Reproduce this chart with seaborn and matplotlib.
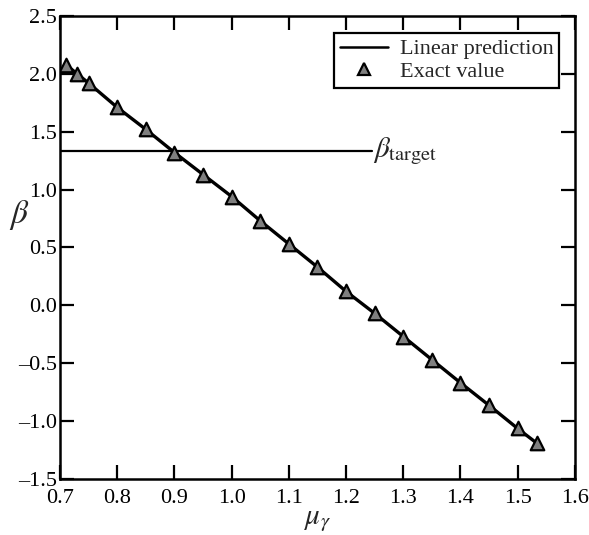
import numpy as np
import pandas as pd
import matplotlib
matplotlib.use("Agg")
import matplotlib.pyplot as plt
import seaborn as sns
from matplotlib.lines import Line2D

sns.set_theme(style="ticks")
plt.rcParams['font.family'] = ['Liberation Serif', 'DejaVu Serif']
plt.rcParams['mathtext.fontset'] = 'stix'
plt.rcParams['axes.unicode_minus'] = True

mu_gamma = [0.71, 0.73, 0.75, 0.80, 0.85, 0.90, 0.95, 1.00, 1.05, 1.10, 1.15,
            1.20, 1.25, 1.30, 1.35, 1.40, 1.45, 1.50, 1.533]
beta_exact = [2.08, 2.00, 1.92, 1.71, 1.52, 1.32, 1.13, 0.94, 0.73, 0.53, 0.33,
              0.12, -0.07, -0.27, -0.47, -0.67, -0.865, -1.065, -1.19]
beta_linear = beta_exact
beta_target = 1.33
target_x_end = 1.245

df = pd.DataFrame({"mu": mu_gamma, "lin": beta_linear, "exact": beta_exact})

fig = plt.figure(figsize=(5.89, 5.35), dpi=100)
ax = fig.add_axes([0.102, 0.105, 0.874, 0.865])

sns.lineplot(data=df, x="mu", y="lin", ax=ax, color="black", lw=2.4, zorder=2)
sns.scatterplot(data=df, x="mu", y="exact", ax=ax, marker="^", s=95,
                color="#7f7f7f", edgecolor="black", linewidth=1.6, zorder=3)
ax.plot([0.7, target_x_end], [beta_target, beta_target], color="black", lw=1.6, zorder=1)
ax.text(target_x_end + 0.002, beta_target, r"$\beta_{\mathrm{target}}$", fontsize=21,
        va="center", ha="left")

ax.set_xlim(0.7, 1.6)
ax.set_ylim(-1.5, 2.5)
ax.set_xticks(np.arange(0.7, 1.61, 0.1))
ax.set_yticks(np.arange(-1.5, 2.51, 0.5))
ax.set_xticklabels([f"{v:.1f}" for v in np.arange(0.7, 1.61, 0.1)])
ax.set_yticklabels([f"{v:.1f}".replace("-", "\u2013") for v in np.arange(-1.5, 2.51, 0.5)])
ax.tick_params(direction="in", length=10, width=1.6, labelsize=16, top=True, right=True,
               colors="black")
ax.tick_params(axis="x", pad=7)
ax.tick_params(axis="y", pad=2)
for sp in ax.spines.values():
    sp.set_visible(True)
    sp.set_linewidth(1.8)
    sp.set_color("black")

ax.set_xlabel(r"$\mu_{\gamma}$", fontsize=21, labelpad=0)
ax.set_ylabel(r"$\beta$", fontsize=24, rotation=0, va="center", ha="center")
ax.yaxis.set_label_coords(-0.08, 0.57)

handles = [Line2D([0], [0], color="black", lw=1.8),
           Line2D([0], [0], marker="^", color="none", markerfacecolor="#7f7f7f",
                  markeredgecolor="black", markersize=9, markeredgewidth=1.6)]
leg = ax.legend(handles, ["Linear prediction", "Exact value"], loc="upper right",
                fontsize=16, frameon=True, fancybox=False, edgecolor="black",
                handlelength=2.2, borderpad=0.25, labelspacing=0.1,
                handletextpad=0.5, borderaxespad=0, bbox_to_anchor=(0.969, 0.963))
leg.get_frame().set_linewidth(1.6)
leg.get_frame().set_alpha(1)

fig.savefig("out.png", dpi=100)
